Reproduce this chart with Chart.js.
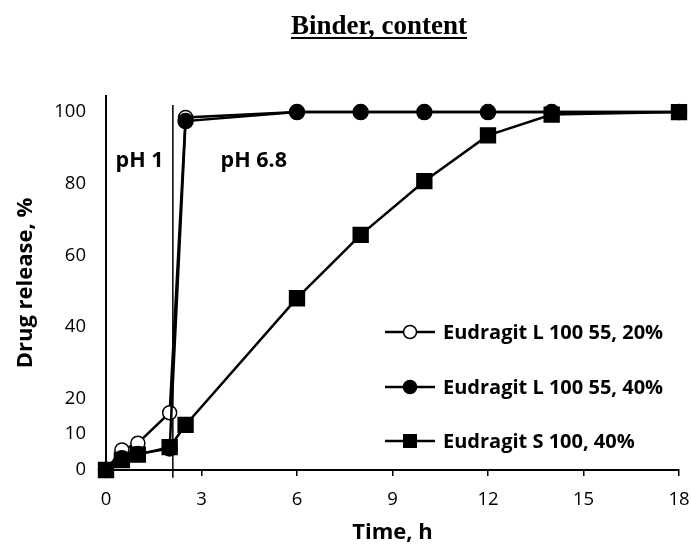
<!DOCTYPE html>
<html>
<head>
<meta charset="utf-8">
<script src="https://cdn.jsdelivr.net/npm/chart.js@4/dist/chart.umd.min.js"></script>
<style>
  html, body { margin: 0; padding: 0; background: #fff; }
  #wrap { width: 691px; height: 546px; }
</style>
</head>
<body>
<div id="wrap"><canvas id="release-chart"></canvas></div>
<script>
//sampling times, h
const TIME_H = [0, 0.5, 1, 2, 2.5, 6, 8, 10, 12, 14, 18];

//drug release, %
const L100_55_20 = [0, 5.6, 7.5, 16, 98.5, 100, 100, 100, 100, 100, 100];
const L100_55_40 = [0, 3.3, 4.5, 6, 97.5, 100, 100, 100, 100, 100, 100];
const S100_40 = [0, 2.8, 4.3, 6.4, 12.6, 48, 65.7, 80.7, 93.5, 99.3, 100];

const SERIES_LABELS = ['Eudragit L 100 55, 20%', 'Eudragit L 100 55, 40%', 'Eudragit S 100, 40%'];
const Y_TICKS = [0, 10, 20, 40, 60, 80, 100];
const X_TICKS = [0, 3, 6, 9, 12, 15, 18];

//medium change
const PH_SWITCH_TIME = 2.1;
const PH_LABELS = ['pH 1', 'pH 6.8'];

const TITLE = 'Binder, content';
const SANS = '"Open Sans", sans-serif';

function toPoints(values) {
    return TIME_H.map((t, i) => ({x: t, y: values[i]}));
}

function seriesDataset(label, values, style, fill, radius, order) {
    return {
        label: label,
        data: toPoints(values),
        borderColor: '#000',
        borderWidth: 2.5,
        pointStyle: style,
        pointRadius: radius,
        pointHoverRadius: radius,
        pointBackgroundColor: fill,
        pointBorderColor: '#000',
        pointBorderWidth: 1.5,
        clip: false,
        order: order
    };
}

const phLines = {
    id: 'phLines',
    afterDatasetsDraw(chart) {
        const {ctx, scales: {x, y}} = chart;
        ctx.save();
        ctx.fillStyle = '#000';
        ctx.font = 'bold 21.5px ' + SANS;
        ctx.textBaseline = 'middle';
        ctx.textAlign = 'left';
        ctx.fillText(PH_LABELS[0], x.getPixelForValue(0.3), y.getPixelForValue(86.5));
        ctx.fillText(PH_LABELS[1], x.getPixelForValue(3.6), y.getPixelForValue(86.5));
        ctx.restore();
    }
};

const pageText = {
    id: 'pageText',
    afterDraw(chart) {
        const ctx = chart.ctx;
        ctx.save();
        //title, underlined
        ctx.fillStyle = '#000';
        ctx.font = 'bold 27px "Liberation Serif", serif';
        ctx.textAlign = 'center';
        ctx.textBaseline = 'alphabetic';
        const tx = 379;
        const ty = 34;
        ctx.fillText(TITLE, tx, ty);
        const w = ctx.measureText(TITLE).width;
        ctx.fillRect(tx - w / 2, ty + 3, w, 2);

        //legend: line with marker, then label
        const ds = chart.data.datasets.slice(0, 3);
        const rows = [332, 387, 441];
        ctx.font = 'bold 20px ' + SANS;
        ctx.textAlign = 'left';
        ctx.textBaseline = 'middle';
        ds.forEach((d, i) => {
            const cy = rows[i];
            ctx.strokeStyle = '#000';
            ctx.lineWidth = 2.5;
            ctx.beginPath();
            ctx.moveTo(385, cy);
            ctx.lineTo(435, cy);
            ctx.stroke();
            ctx.fillStyle = d.pointBackgroundColor;
            ctx.lineWidth = 1.5;
            if (d.pointStyle === 'rect') {
                ctx.fillStyle = '#000';
                ctx.fillRect(403, cy - 7, 14, 14);
            } else {
                ctx.beginPath();
                ctx.arc(410, cy, 6.5, 0, Math.PI * 2);
                ctx.fill();
                ctx.stroke();
            }
            ctx.fillStyle = '#000';
            ctx.fillText(d.label, 443, cy + 1);
        });
        ctx.restore();
    }
};

const chart = new Chart(document.getElementById('release-chart'), {
    type: 'line',
    data: {
        datasets: [
            seriesDataset(SERIES_LABELS[0], L100_55_20, 'circle', '#fff', 7, 3),
            seriesDataset(SERIES_LABELS[1], L100_55_40, 'circle', '#000', 7.5, 2),
            seriesDataset(SERIES_LABELS[2], S100_40, 'rect', '#000', 10.5, 1),
            {
                label: 'pH',
                data: [{x: PH_SWITCH_TIME, y: 102}, {x: PH_SWITCH_TIME, y: -2.2}],
                borderColor: '#000',
                borderWidth: 1.5,
                pointRadius: 0,
                clip: false,
                order: 4
            }
        ]
    },
    options: {
        responsive: true,
        maintainAspectRatio: false,
        animation: false,
        events: [],
        layout: {
            padding: {top: 96, right: 11, bottom: 0, left: 0}
        },
        scales: {
            x: {
                type: 'linear',
                min: 0,
                max: 18,
                afterBuildTicks: (scale) => { scale.ticks = X_TICKS.map(v => ({value: v})); },
                afterFit: (scale) => {
                    scale.height = 76;
                    scale.paddingLeft = 0;
                    scale.paddingRight = 0;
                },
                grid: {display: true, drawOnChartArea: false, drawTicks: true, tickLength: 6, color: '#000', lineWidth: 1.5},
                border: {display: true, color: '#000', width: 2},
                ticks: {color: '#000', font: {family: SANS, size: 18.5}, padding: 13, maxRotation: 0},
                title: {display: true, text: 'Time, h', color: '#000', font: {family: SANS, size: 22, weight: 'bold'}, padding: {top: 0, bottom: 0}}
            },
            y: {
                min: 0,
                max: 104.5,
                afterBuildTicks: (scale) => { scale.ticks = Y_TICKS.map(v => ({value: v})); },
                afterFit: (scale) => {
                    scale.width = 106;
                    scale.paddingTop = 0;
                    scale.paddingBottom = 0;
                },
                grid: {display: false},
                border: {display: true, color: '#000', width: 2},
                ticks: {color: '#000', font: {family: SANS, size: 18.5}, padding: 12},
                title: {display: true, text: 'Drug release, %', color: '#000', font: {family: SANS, size: 22, weight: 'bold'}, padding: {top: 13, bottom: 0}}
            }
        },
        plugins: {
            legend: {display: false},
            tooltip: {enabled: false}
        }
    },
    plugins: [phLines, pageText]
});
</script>
</body>
</html>
